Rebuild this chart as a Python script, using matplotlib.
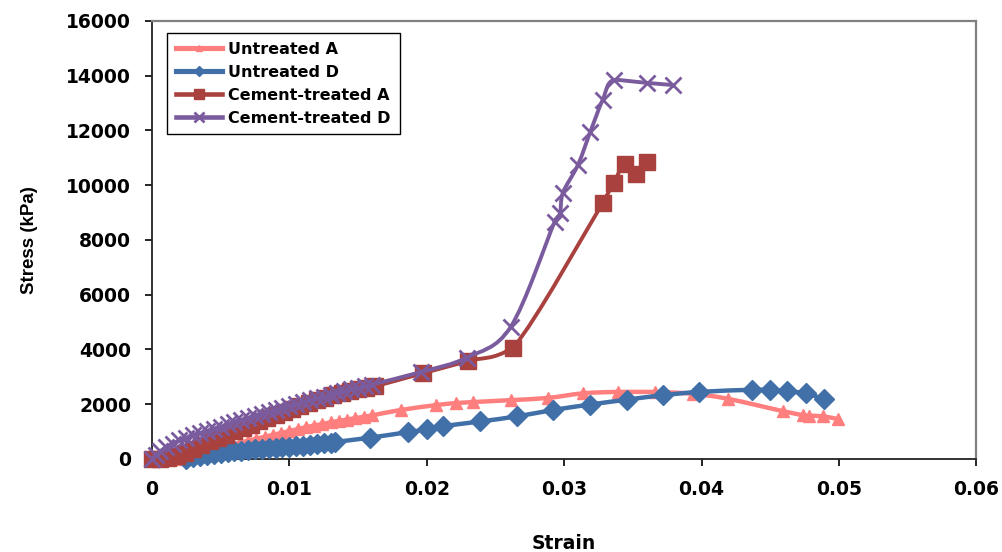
import numpy as np
import matplotlib
matplotlib.use('Agg')
import matplotlib.pyplot as plt
from matplotlib.path import Path
from matplotlib.patches import PathPatch
from matplotlib.lines import Line2D
from matplotlib.ticker import FuncFormatter

plt.rcParams['font.family'] = ['DejaVu Sans']
plt.rcParams['font.weight'] = 'bold'

# Untreated A
ua_strain = [0.0022, 0.0028, 0.0034, 0.0040, 0.0046, 0.0052, 0.0058, 0.0064, 0.0070, 0.0076,
             0.0082, 0.0088, 0.0094, 0.0100, 0.0106, 0.0112, 0.0118, 0.0124, 0.0130, 0.0136,
             0.0142, 0.0148, 0.0154, 0.0160, 0.0181, 0.0207, 0.0221, 0.0234, 0.0261, 0.0288,
             0.0314, 0.0339, 0.0366, 0.0394, 0.0419, 0.0459, 0.0474, 0.0478, 0.0488, 0.0499]
ua_stress = [0, 60, 160, 260, 350, 440, 520, 600, 670, 740,
             810, 880, 950, 1020, 1090, 1160, 1220, 1280, 1340, 1390,
             1440, 1490, 1540, 1590, 1790, 1970, 2040, 2080, 2150, 2230,
             2400, 2450, 2450, 2380, 2200, 1750, 1600, 1580, 1560, 1460]

# Untreated D
ud_strain = [0.0025, 0.0030, 0.0035, 0.0040, 0.0045, 0.0050, 0.0055, 0.0060, 0.0065, 0.0070,
             0.0075, 0.0080, 0.0085, 0.0090, 0.0095, 0.0100, 0.0105, 0.0110, 0.0115, 0.0120,
             0.0125, 0.0130, 0.0133, 0.0159, 0.0186, 0.0200, 0.0212, 0.0239, 0.0266, 0.0292,
             0.0319, 0.0346, 0.0372, 0.0398, 0.0437, 0.0450, 0.0462, 0.0476, 0.0489]
ud_stress = [0, 60, 110, 150, 190, 220, 250, 280, 300, 330,
             350, 370, 390, 410, 430, 450, 470, 490, 510, 540,
             570, 600, 620, 780, 980, 1080, 1200, 1370, 1560, 1790,
             1990, 2170, 2330, 2450, 2530, 2520, 2470, 2400, 2180]

# Cement-treated A
ca_strain = [0.0000, 0.0006, 0.0012, 0.0018, 0.0024, 0.0030, 0.0036, 0.0042, 0.0048, 0.0054,
             0.0060, 0.0066, 0.0072, 0.0078, 0.0084, 0.0090, 0.0096, 0.0102, 0.0108, 0.0114,
             0.0120, 0.0126, 0.0132, 0.0138, 0.0144, 0.0150, 0.0156, 0.0162, 0.0197, 0.0230,
             0.0263, 0.0328, 0.0336, 0.0344, 0.0352, 0.0360]
ca_stress = [0, 10, 40, 100, 220, 360, 500, 640, 770, 890,
             1010, 1130, 1250, 1370, 1490, 1610, 1720, 1830, 1940, 2040,
             2140, 2240, 2330, 2410, 2480, 2540, 2600, 2650, 3130, 3580,
             4070, 9350, 10080, 10780, 10420, 10850]

# Cement-treated D
cd_strain = [0.0000, 0.0003, 0.0006, 0.0010, 0.0015, 0.0020, 0.0025, 0.0030, 0.0035, 0.0040,
             0.0045, 0.0050, 0.0055, 0.0060, 0.0065, 0.0070, 0.0075, 0.0080, 0.0085, 0.0090,
             0.0095, 0.0100, 0.0105, 0.0110, 0.0115, 0.0120, 0.0125, 0.0130, 0.0135, 0.0140,
             0.0145, 0.0150, 0.0155, 0.0160, 0.0196, 0.0229, 0.0261, 0.0293, 0.0297, 0.0299,
             0.0310, 0.0319, 0.0328, 0.0336, 0.0360, 0.0379]
cd_stress = [0, 150, 280, 420, 560, 680, 780, 860, 940, 1020,
             1100, 1180, 1260, 1340, 1420, 1500, 1580, 1650, 1720, 1790,
             1860, 1930, 2000, 2070, 2140, 2210, 2280, 2350, 2420, 2480,
             2540, 2600, 2660, 2720, 3180, 3700, 4820, 8660, 8990, 9720,
             10740, 11950, 13120, 13850, 13740, 13660]


def smooth_path(x, y):
    # smoothed line like Excel: cubic bezier through the points, no overshoot
    pts = np.column_stack([x, y]).astype(float)
    n = len(pts)
    verts = [pts[0]]
    codes = [Path.MOVETO]
    for i in range(n - 1):
        p0 = pts[max(i - 1, 0)]
        p1 = pts[i]
        p2 = pts[i + 1]
        p3 = pts[min(i + 2, n - 1)]
        c1 = p1 + (p2 - p0) / 6
        c2 = p2 - (p3 - p1) / 6
        lo = np.minimum(p1, p2)
        hi = np.maximum(p1, p2)
        c1 = np.clip(c1, lo, hi)
        c2 = np.clip(c2, lo, hi)
        verts += [c1, c2, p2]
        codes += [Path.CURVE4] * 3
    return Path(verts, codes)


series = [
    ('Untreated A', ua_strain, ua_stress, '#FF7F7F', '^', 8, 3.2, 1),
    ('Untreated D', ud_strain, ud_stress, '#4170A8', 'D', 10, 3.2, 1),
    ('Cement-treated A', ca_strain, ca_stress, '#A9413F', 's', 12, 2.8, 1),
    ('Cement-treated D', cd_strain, cd_stress, '#7A5C9E', 'x', 12, 2.8, 2),
]

fig = plt.figure(figsize=(10.03, 5.52), dpi=100)
ax = fig.add_axes([0.1515, 0.1685, 0.822, 0.7935])

handles = []
for k, (name, x, y, col, mk, ms, lw, mew) in enumerate(series):
    patch = PathPatch(smooth_path(x, y), facecolor='none', edgecolor=col,
                      lw=lw, capstyle='round', joinstyle='round', zorder=3 + 2 * k)
    patch.set_clip_on(False)
    ax.add_patch(patch)
    ax.plot(x, y, linestyle='none', marker=mk, ms=ms, color=col, mec=col,
            mew=mew, clip_on=False, zorder=4 + 2 * k)
    handles.append(Line2D([], [], color=col, lw=lw + 0.5, marker=mk, ms=ms * 0.55,
                          mew=mew, label=name))

ax.set_xlim(0, 0.06)
ax.set_ylim(0, 16000)
ax.set_xticks([0, 0.01, 0.02, 0.03, 0.04, 0.05, 0.06])
ax.set_yticks(range(0, 16001, 2000))
ax.xaxis.set_major_formatter(FuncFormatter(lambda v, p: '0' if v == 0 else f'{v:.2f}'))
ax.tick_params(direction='out', length=5, width=1.2, labelsize=13.5, pad=10)

for s in ['left', 'bottom']:
    ax.spines[s].set_color('#222222')
    ax.spines[s].set_linewidth(1.3)
for s in ['top', 'right']:
    ax.spines[s].set_color('#808080')
    ax.spines[s].set_linewidth(1.6)

ax.set_xlabel('Strain', fontsize=13.5, fontweight='bold', labelpad=25)
ax.set_ylabel('Stress (kPa)', fontsize=13.5, fontweight='bold', labelpad=20,
              family=['Liberation Sans', 'DejaVu Sans'])

leg = ax.legend(handles=handles, loc='upper left', bbox_to_anchor=(0.018, 0.973),
                borderaxespad=0, fancybox=False, framealpha=1, edgecolor='black',
                prop={'size': 11.5, 'weight': 'bold'}, handlelength=2.9,
                labelspacing=0.5, handletextpad=0.4, borderpad=0.55)
leg.get_frame().set_linewidth(1.0)
leg.set_zorder(20)

fig.savefig('out.png', dpi=100)
